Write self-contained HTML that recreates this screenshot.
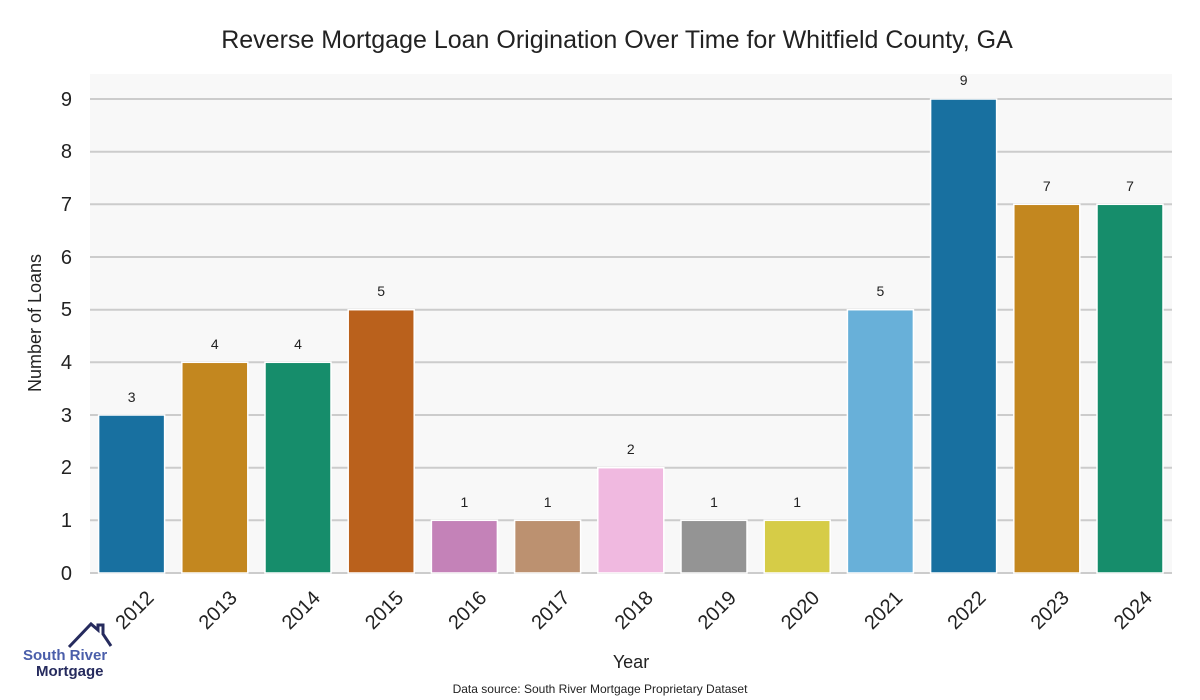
<!DOCTYPE html>
<html><head><meta charset="utf-8"><style>body{margin:0;background:#fff}svg{display:block}text{font-family:"Liberation Sans",sans-serif}</style></head>
<body>
<svg width="1200" height="700" viewBox="0 0 1200 700" xmlns="http://www.w3.org/2000/svg">
<rect x="0" y="0" width="1200" height="700" fill="#fff"/>
<rect x="90" y="74" width="1082" height="499" fill="#f8f8f8"/>
<g stroke="#cccccc" stroke-width="2">
<line x1="90" x2="1172" y1="573" y2="573"/>
<line x1="90" x2="1172" y1="520.3" y2="520.3"/>
<line x1="90" x2="1172" y1="467.7" y2="467.7"/>
<line x1="90" x2="1172" y1="415" y2="415"/>
<line x1="90" x2="1172" y1="362.3" y2="362.3"/>
<line x1="90" x2="1172" y1="309.7" y2="309.7"/>
<line x1="90" x2="1172" y1="257" y2="257"/>
<line x1="90" x2="1172" y1="204.3" y2="204.3"/>
<line x1="90" x2="1172" y1="151.7" y2="151.7"/>
<line x1="90" x2="1172" y1="99" y2="99"/>
</g>
<g font-size="20" fill="#222" text-anchor="end">
<text x="72" y="580">0</text><text x="72" y="527">1</text><text x="72" y="474">2</text><text x="72" y="422">3</text><text x="72" y="369">4</text><text x="72" y="316">5</text><text x="72" y="264">6</text><text x="72" y="211">7</text><text x="72" y="158">8</text><text x="72" y="106">9</text>
</g>
<g stroke="#fff" stroke-width="1.5">
<rect x="98.6" y="415" width="66" height="158" fill="#1870a0"/>
<rect x="181.8" y="362.3" width="66" height="210.7" fill="#c3871f"/>
<rect x="265" y="362.3" width="66" height="210.7" fill="#168d6b"/>
<rect x="348.2" y="309.7" width="66" height="263.3" fill="#ba611c"/>
<rect x="431.4" y="520.3" width="66" height="52.7" fill="#c482b8"/>
<rect x="514.6" y="520.3" width="66" height="52.7" fill="#bc9170"/>
<rect x="597.8" y="467.7" width="66" height="105.3" fill="#f0b9e0"/>
<rect x="681" y="520.3" width="66" height="52.7" fill="#949494"/>
<rect x="764.2" y="520.3" width="66" height="52.7" fill="#d6cc47"/>
<rect x="847.4" y="309.7" width="66" height="263.3" fill="#68b0d9"/>
<rect x="930.6" y="99" width="66" height="474" fill="#1870a0"/>
<rect x="1013.8" y="204.3" width="66" height="368.7" fill="#c3871f"/>
<rect x="1097" y="204.3" width="66" height="368.7" fill="#168d6b"/>
</g>
<g font-size="14" fill="#222" text-anchor="middle">
<text x="131.6" y="402">3</text><text x="214.8" y="349">4</text><text x="298" y="349">4</text><text x="381.2" y="296">5</text><text x="464.4" y="507">1</text><text x="547.6" y="507">1</text><text x="630.8" y="454">2</text><text x="714" y="507">1</text><text x="797.2" y="507">1</text><text x="880.4" y="296">5</text><text x="963.6" y="85">9</text><text x="1046.8" y="191">7</text><text x="1130" y="191">7</text>
</g>
<g font-size="20" fill="#222" text-anchor="end">
<text transform="translate(155,599) rotate(-45)">2012</text>
<text transform="translate(238.2,599) rotate(-45)">2013</text>
<text transform="translate(321.4,599) rotate(-45)">2014</text>
<text transform="translate(404.6,599) rotate(-45)">2015</text>
<text transform="translate(487.8,599) rotate(-45)">2016</text>
<text transform="translate(571,599) rotate(-45)">2017</text>
<text transform="translate(654.2,599) rotate(-45)">2018</text>
<text transform="translate(737.4,599) rotate(-45)">2019</text>
<text transform="translate(820.6,599) rotate(-45)">2020</text>
<text transform="translate(903.8,599) rotate(-45)">2021</text>
<text transform="translate(987,599) rotate(-45)">2022</text>
<text transform="translate(1070.2,599) rotate(-45)">2023</text>
<text transform="translate(1153.4,599) rotate(-45)">2024</text>
</g>
<text x="617" y="48" font-size="25" fill="#222" text-anchor="middle">Reverse Mortgage Loan Origination Over Time for Whitfield County, GA</text>
<text x="631" y="668" font-size="18" fill="#222" text-anchor="middle">Year</text>
<text transform="translate(41,323) rotate(-90)" font-size="18" fill="#222" text-anchor="middle">Number of Loans</text>
<text x="600" y="693" font-size="12" fill="#222" text-anchor="middle">Data source: South River Mortgage Proprietary Dataset</text>
<polyline points="69,647 91,624 98,630 98,625 103,625 103,634 111,646" fill="none" stroke="#262b5e" stroke-width="3"/>
<text x="23" y="660" font-size="15" font-weight="bold" fill="#4a5eaa">South River</text>
<text x="36" y="676" font-size="15" font-weight="bold" fill="#262b5e">Mortgage</text>
</svg>
</body></html>
